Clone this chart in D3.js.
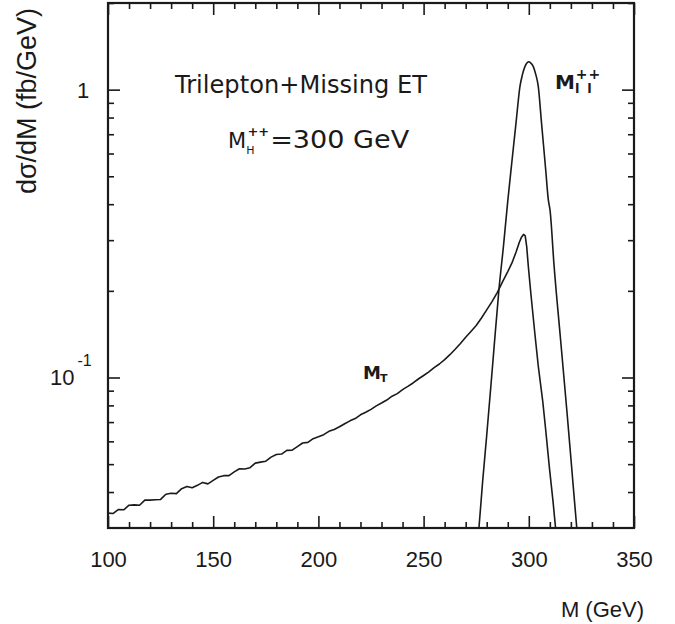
<!DOCTYPE html>
<html>
<head>
<meta charset="utf-8">
<script src="https://cdn.jsdelivr.net/npm/d3@7"></script>
<style>
  html, body { margin: 0; padding: 0; background: #fff; }
  svg { display: block; }
</style>
</head>
<body>
<svg id="chart" width="675" height="624"></svg>
<script>
// ---- data ----
const massMT = [100,102.5,105,107.5,110,112.5,115,117.5,120,122.5,125,127.5,130,132.5,135,137.5,140,142.5,145,147.5,150,152.5,155,157.5,160,162.5,165,167.5,170,172.5,175,177.5,180,182.5,185,187.5,190,192.5,195,197.5,200,202.5,205,207.5,210,212.5,215,217.5,220,222.5,225,227.5,230,232.5,235,237.5,240,242.5,245,247.5,250,252.5,255,257.5,260,262.5,265,267.5,270,272.5,275,277.5,280,282.5,285,287.5,290,292,294,295.5,296.5,297.5,298.3,299,299.8,301,302.9,304.5,306.6,308,309.8,311.5,312.8,313.5];
const sigmaMT = [0.0338,0.0337,0.0348,0.0347,0.0360,0.0361,0.0360,0.0375,0.0375,0.0376,0.0377,0.0393,0.0396,0.0395,0.0411,0.0418,0.0414,0.0422,0.0432,0.0427,0.0439,0.0451,0.0456,0.0456,0.0470,0.0482,0.0481,0.0486,0.0504,0.0508,0.0512,0.0529,0.0540,0.0542,0.0558,0.0559,0.0575,0.0592,0.0595,0.0613,0.0622,0.0633,0.0650,0.0660,0.0674,0.0691,0.0707,0.0720,0.0742,0.0757,0.0775,0.0797,0.0815,0.0835,0.0861,0.0879,0.0907,0.0931,0.0957,0.0988,0.1016,0.1046,0.1082,0.1114,0.1153,0.1200,0.1253,0.1313,0.1380,0.1445,0.1515,0.1610,0.1718,0.1835,0.1972,0.2150,0.2333,0.2500,0.2735,0.2951,0.3069,0.3141,0.3105,0.2851,0.2421,0.1950,0.1416,0.1096,0.0830,0.0661,0.0485,0.0372,0.0296,0.0263];

const massMll = [275,276.3,278,280,283,285.8,288,290,292,294,295.8,297,298.2,299.2,300,300.8,302.1,303.3,304.5,306,308,309.3,310.1,312,315,318,320,322.8,324];
const sigmaMll = [0.024,0.030,0.043,0.063,0.115,0.2018,0.288,0.41,0.565,0.776,1.027,1.13,1.205,1.24,1.25,1.24,1.205,1.13,1.027,0.773,0.53,0.413,0.381,0.245,0.138,0.078,0.0525,0.030,0.024];

const xMajorTicks = [100,150,200,250,300,350];
const xMinorTicks = [110,120,130,140,160,170,180,190,210,220,230,240,260,270,280,290,310,320,330,340];
const yMajorTicks = [0.1, 1];
const yMinorTicks = [0.04,0.05,0.06,0.07,0.08,0.09,0.2,0.3,0.4,0.5,0.6,0.7,0.8,0.9,2];
const yTickBase = ["10", "1"];
const yTickExp = ["-1", ""];

// ---- layout ----
const svg = d3.select("#chart");
const pLeft = 108, pRight = 634, pTop = 3, pBottom = 528;
const x = d3.scaleLinear().domain([100, 350]).range([pLeft, pRight]);
const y = d3.scaleLog().domain([0.03, 2]).range([pBottom, pTop]);
const ink = "#1a1a1a";
const tickFont = "'Liberation Sans', Arial, Helvetica, sans-serif";
const annoFont = "'DejaVu Sans', Lato, sans-serif";

svg.append("defs").append("clipPath").attr("id", "plotclip")
  .append("rect").attr("x", pLeft).attr("y", pTop).attr("width", pRight - pLeft).attr("height", pBottom - pTop);

function styleAxis(g) {
  g.select(".domain").remove();
  g.selectAll(".tick line").attr("stroke", ink).attr("stroke-width", 1.6);
}

// bottom ticks (pointing up) and top ticks (pointing down)
svg.append("g").attr("transform", `translate(0,${pBottom})`)
  .call(d3.axisTop(x).tickValues(xMajorTicks).tickSize(12).tickFormat("")).call(styleAxis);
svg.append("g").attr("transform", `translate(0,${pBottom})`)
  .call(d3.axisTop(x).tickValues(xMinorTicks).tickSize(6).tickFormat("")).call(styleAxis);
svg.append("g").attr("transform", `translate(0,${pTop})`)
  .call(d3.axisBottom(x).tickValues(xMajorTicks).tickSize(12).tickFormat("")).call(styleAxis);
svg.append("g").attr("transform", `translate(0,${pTop})`)
  .call(d3.axisBottom(x).tickValues(xMinorTicks).tickSize(6).tickFormat("")).call(styleAxis);
// left ticks (pointing right) and right ticks (pointing left)
svg.append("g").attr("transform", `translate(${pLeft},0)`)
  .call(d3.axisRight(y).tickValues(yMajorTicks).tickSize(12).tickFormat("")).call(styleAxis);
svg.append("g").attr("transform", `translate(${pLeft},0)`)
  .call(d3.axisRight(y).tickValues(yMinorTicks).tickSize(6).tickFormat("")).call(styleAxis);
svg.append("g").attr("transform", `translate(${pRight},0)`)
  .call(d3.axisLeft(y).tickValues(yMajorTicks).tickSize(12).tickFormat("")).call(styleAxis);
svg.append("g").attr("transform", `translate(${pRight},0)`)
  .call(d3.axisLeft(y).tickValues(yMinorTicks).tickSize(6).tickFormat("")).call(styleAxis);

// x tick labels
const xl = svg.append("g").attr("transform", `translate(0,${pBottom})`)
  .call(d3.axisBottom(x).tickValues(xMajorTicks).tickSize(0).tickPadding(23).tickFormat(d3.format("d")));
xl.select(".domain").remove();
xl.selectAll("text").attr("font-family", tickFont).attr("font-size", 22).attr("fill", ink);

// y tick labels (power of ten written with a raised exponent)
const yl = svg.append("g");
yMajorTicks.forEach((v, i) => {
  const t = yl.append("text")
    .attr("x", yTickExp[i] ? 50 : 77).attr("y", y(v) + 8)
    .attr("font-family", tickFont).attr("font-size", 22).attr("fill", ink);
  t.append("tspan").text(yTickBase[i]);
  if (yTickExp[i]) {
    t.append("tspan").attr("dx", 3).attr("dy", -19).attr("font-size", 16).text(yTickExp[i]);
  }
});

// frame
svg.append("rect").attr("x", pLeft).attr("y", pTop).attr("width", pRight - pLeft).attr("height", pBottom - pTop)
  .attr("fill", "none").attr("stroke", ink).attr("stroke-width", 2.2);

// curves
const line = d3.line().x(d => x(d[0])).y(d => y(d[1]));
const plot = svg.append("g").attr("clip-path", "url(#plotclip)");
plot.append("path").datum(massMT.map((m, i) => [m, sigmaMT[i]]))
  .attr("d", line).attr("fill", "none").attr("stroke", ink).attr("stroke-width", 1.6).attr("stroke-linejoin", "round");
plot.append("path").datum(massMll.map((m, i) => [m, sigmaMll[i]]))
  .attr("d", d3.line().x(d => x(d[0])).y(d => y(d[1])).curve(d3.curveMonotoneX))
  .attr("fill", "none").attr("stroke", ink).attr("stroke-width", 1.6);

// axis titles
svg.append("text").attr("x", 644).attr("y", 617).attr("text-anchor", "end")
  .attr("font-family", tickFont).attr("font-size", 22).attr("fill", ink).text("M (GeV)");
svg.append("text").attr("transform", "translate(36,101) rotate(-90)").attr("text-anchor", "middle")
  .attr("font-family", tickFont).attr("font-size", 27).attr("fill", ink).text("dσ/dM (fb/GeV)");

// annotations
const anno = svg.append("g").attr("font-family", annoFont).attr("fill", ink);
anno.append("text").attr("x", 175).attr("y", 93).attr("font-size", 24)
  .attr("textLength", 252).attr("lengthAdjust", "spacingAndGlyphs").text("Trilepton+Missing ET");

const mh = anno.append("text").attr("x", 228).attr("y", 148).attr("font-size", 21);
mh.append("tspan").text("M");
mh.append("tspan").attr("dx", 0).attr("dy", 6).attr("font-size", 11).text("H");
mh.append("tspan").attr("dx", -7).attr("dy", -18).attr("font-size", 13).attr("font-weight", "bold").text("++");
mh.append("tspan").attr("dx", 1).attr("dy", 12).attr("font-size", 24)
  .attr("textLength", 139).attr("lengthAdjust", "spacingAndGlyphs").text("=300 GeV");

// M_T
const mt = anno.append("text").attr("x", 363).attr("y", 379).attr("font-size", 18).attr("font-weight", "bold");
mt.append("tspan").text("M");
mt.append("tspan").attr("dx", -1).attr("dy", 3).attr("font-size", 11).text("T");

// M_ll
const ml = anno.append("text").attr("x", 555).attr("y", 89).attr("font-size", 20).attr("font-weight", "bold");
ml.append("tspan").text("M");
ml.append("tspan").attr("dx", 0).attr("dy", 4).attr("font-size", 13).attr("letter-spacing", 8).text("ll");
ml.append("tspan").attr("dx", -24).attr("dy", -14).attr("font-size", 14).attr("letter-spacing", 1).text("++");
</script>
</body>
</html>
